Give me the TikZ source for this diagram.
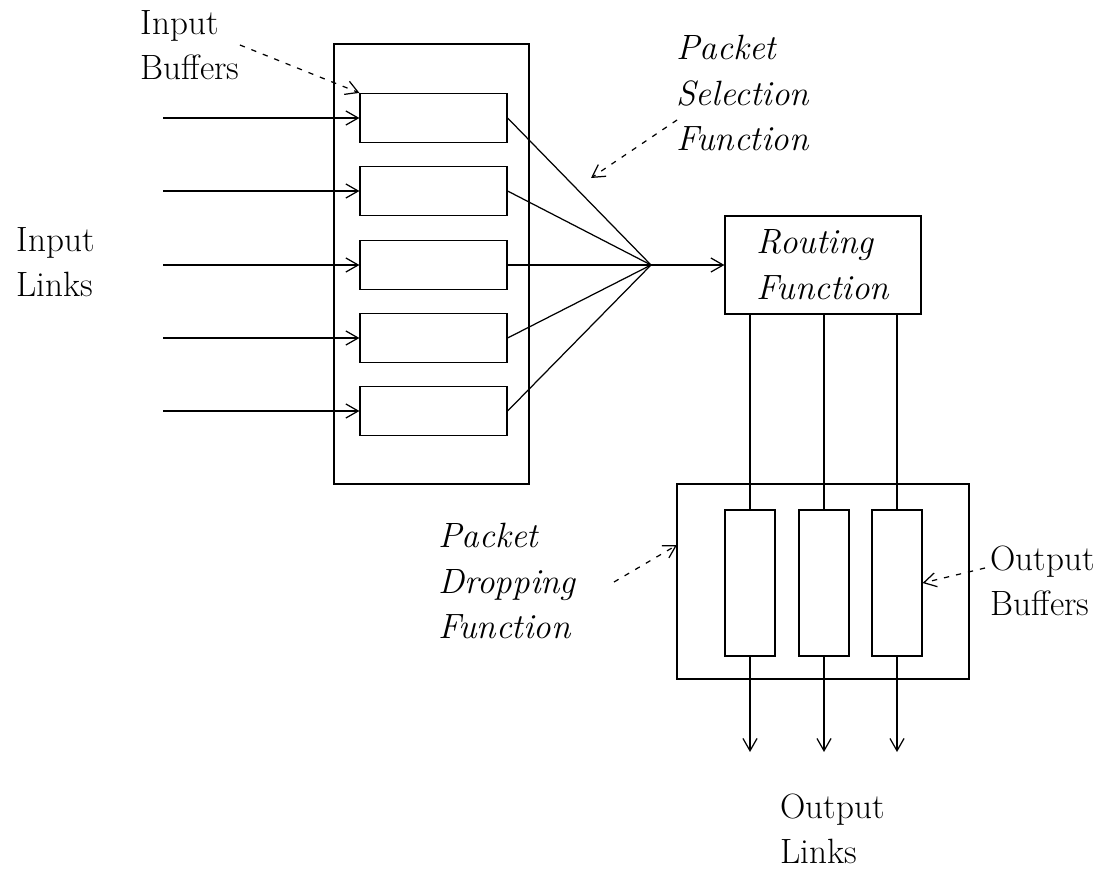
\documentclass[tikz,border=0pt]{standalone}
\usetikzlibrary{positioning,arrows.meta}

\begin{document}
\begin{tikzpicture}[x=0.02cm,y=-0.02cm,line width=0.7pt,>={Straight Barb[length=7pt,width=8pt]},
  every node/.style={font=\fontsize{20}{26}\selectfont},
  box/.style={draw,line width=0.7pt,inner sep=0pt},
  inbuf/.style={box,minimum width=2.94cm,minimum height=0.98cm},
  outbuf/.style={box,minimum width=1cm,minimum height=2.92cm},
  lbl/.style={align=left,inner sep=0pt,anchor=west},
  pointer/.style={->,dash pattern=on 3pt off 4pt}]

\useasboundingbox (0,0) rectangle (1115,872);

% input side
\node[box,minimum width=3.9cm,minimum height=8.8cm] (inbox) at (431.5,264) {};
\foreach \i/\y in {1/118,2/191,3/265,4/338,5/411}{
  \node[inbuf] (ibuf\i) at (433.5,\y) {};
  \coordinate (in\i) at (163,\y);
}
\coordinate (fan) at (651,265);

% routing and output side
\node[box,minimum width=3.92cm,minimum height=1.96cm,align=left,font=\fontsize{20}{26}\selectfont\itshape] (route) at (823,265) {Routing\\Function};
\node[box,minimum width=5.84cm,minimum height=3.9cm] (outbox) at (823,581.5) {};
\foreach \i/\x in {1/750,2/824,3/897}{
  \node[outbuf] (obuf\i) at (\x,583) {};
  \coordinate (out\i) at (\x,752);
}

% labels
\node[lbl] (lblInBuf) at (140,45) {Input\\Buffers};
\node[lbl] (lblInLink) at (16,262) {Input\\Links};
\node[lbl,font=\fontsize{20}{26}\selectfont\itshape] (lblSel) at (676,93) {Packet\\Selection\\Function};
\node[lbl,font=\fontsize{20}{26}\selectfont\itshape] (lblDrop) at (438,581) {Packet\\Dropping\\Function};
\node[lbl] (lblOutBuf) at (990,581) {Output\\Buffers};
\node[lbl] (lblOutLink) at (780,829) {Output\\Links};

\coordinate (selStart) at (677,120);
\coordinate (selTip) at (591,178);
\coordinate (dropStart) at (614,582);
\coordinate (dropTip) at (677,545);
\coordinate (obStart) at (985,568);

% connections
\foreach \i in {1,...,5}{
  \draw[->] (in\i) -- (ibuf\i.west);
  \draw (ibuf\i.east) -- (fan);
}
\draw[->] (fan) -- (route.west);
\foreach \i in {1,2,3}{
  \draw (obuf\i.north |- route.south) -- (obuf\i.north);
  \draw[->] (obuf\i.south) -- (out\i);
}

% pointers
\draw[pointer] (lblInBuf.east) -- (ibuf1.north west);
\draw[pointer] (selStart) -- (selTip);
\draw[pointer] (dropStart) -- (dropTip);
\draw[pointer] (obStart) -- (obuf3.east);

\end{tikzpicture}
\end{document}
